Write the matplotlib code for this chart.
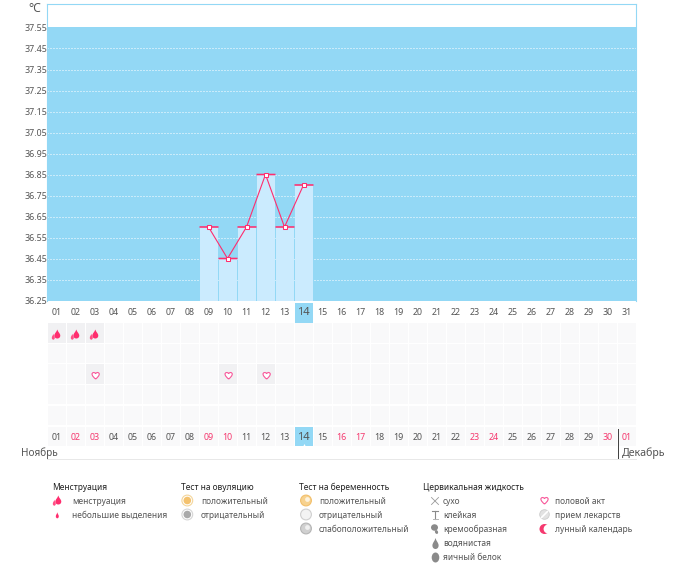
import matplotlib
matplotlib.use("Agg")
import matplotlib.pyplot as plt
from matplotlib.patches import Rectangle, Circle, Ellipse, PathPatch
from matplotlib.path import Path
from matplotlib.transforms import Affine2D

W, H = 675, 587
FONT = "Noto Sans"
plt.rcParams["font.family"] = [FONT, "DejaVu Sans"]

# ---- data ----
days = list(range(1, 32))
temp_days = [9, 10, 11, 12, 13, 14]
temps = [36.60, 36.45, 36.60, 36.85, 36.60, 36.80]
y_ticks = [36.25, 36.35, 36.45, 36.55, 36.65, 36.75, 36.85, 36.95, 37.05,
           37.15, 37.25, 37.35, 37.45, 37.55]
today = 14
day_labels_top = [f"{d:02d}" for d in days]
day_labels_bottom = [f"{d:02d}" for d in range(1, 31)] + ["01"]
red_positions = [2, 3, 9, 10, 16, 17, 23, 24, 30, 31]
menses_days = [1, 2, 3]
intercourse_days = [3, 10, 12]
month_left = "Ноябрь"
month_right = "Декабрь"

legend_titles = ["Менструация", "Тест на овуляцию", "Тест на беременность", "Цервикальная жидкость"]
legend_men = ["менструация", "небольшие выделения"]
legend_ov = ["положительный", "отрицательный"]
legend_preg = ["положительный", "отрицательный", "слабоположительный"]
legend_cerv = ["сухо", "клейкая", "кремообразная", "водянистая", "яичный белок"]
legend_other = ["половой акт", "прием лекарств", "лунный календарь"]

BLUE = "#93D8F5"
LIGHT = "#CBEBFE"
RED = "#FF2D6E"
PINK = "#F5396F"
TXT = "#555555"
DARK = "#222222"
CELL = "#F9F9FA"
CELL_ON = "#F1F1F3"
FS = 6.4
LFS = 6.05

fig = plt.figure(figsize=(W / 100, H / 100), dpi=100, facecolor="white")

def axes_px(x0, y0, x1, y1, **kw):
    return fig.add_axes([x0 / W, 1 - y1 / H, (x1 - x0) / W, (y1 - y0) / H], **kw)

# pixel overlay for decoration and legend (on top of the others)
pa = axes_px(0, 0, W, H, zorder=5)
pa.set_xlim(0, W); pa.set_ylim(H, 0); pa.axis("off"); pa.patch.set_alpha(0)

# ---- temperature chart ----
PX_PER_DEG = 210.0
TOP_PX, Y55, Y25 = 3.5, 27.5, 300.5
ymax = 37.55 + (Y55 - TOP_PX) / PX_PER_DEG
ax = axes_px(47, TOP_PX, 636, Y25)
ax.set_xlim(0.5, 31.5)
ax.set_ylim(36.25, ymax)
ax.set_xticks([]); ax.set_yticks(y_ticks)
ax.tick_params(axis="y", length=0, labelsize=FS, labelcolor=TXT, pad=0)
ax.set_yticklabels([f"{v:.2f}" for v in y_ticks])
for s in ax.spines.values():
    s.set_color(BLUE); s.set_linewidth(0.8)
ax.spines["bottom"].set_visible(False)
ax.axhspan(36.25, 37.55 + 0.5 / PX_PER_DEG, color=BLUE, lw=0, zorder=1)
for v in y_ticks[:-1]:
    ax.axhline(v, color="white", lw=0.72, ls=(0, (1, 2)), zorder=2, clip_on=False)
ax.bar([d + 0.026 for d in temp_days], [t - 36.25 for t in temps], bottom=36.25,
       width=18 / 19, color=LIGHT, lw=0, zorder=3)
for d, t in zip(temp_days, temps):
    ax.plot([d - 0.474, d + 0.526], [t, t], color=RED, lw=1.15, zorder=4,
            solid_capstyle="butt", snap=False)
ax.plot(temp_days, temps, color=RED, lw=0.8, zorder=5, marker="s", ms=3.4,
        mfc="white", mec=RED, mew=0.75)
pa.text(41, 8, "°C", ha="right", va="center", fontsize=8.8, color=TXT)

# ---- calendar strip, shares the day scale, y in pixels ----
ca = axes_px(47, 300, 636, 460)
ca.set_xlim(0.5, 31.5); ca.set_ylim(460, 300); ca.axis("off")
ca.patch.set_alpha(0)
row_tops = [323.3, 344, 364.3, 385, 405.7, 427]
CW = 18 / 19
for r, top in enumerate(row_tops):
    for d in days:
        on = (r == 0 and d in menses_days) or (r == 2 and d in intercourse_days)
        ca.add_patch(Rectangle((d - 0.5 + 0.04, top), CW, 19.2,
                               fc=CELL_ON if on else CELL, lw=0))

drop = Path([(0, -1), (0.15, -0.45), (0.62, -0.1), (0.62, 0.35), (0.62, 0.8), (0.3, 1), (0, 1),
             (-0.3, 1), (-0.62, 0.8), (-0.62, 0.35), (-0.62, -0.1), (-0.15, -0.45), (0, -1)],
            [Path.MOVETO] + [Path.CURVE4] * 12)
heart = Path([(0, 1), (-0.5, 0.55), (-1, 0.1), (-1, -0.4), (-1, -0.85), (-0.3, -1.05), (0, -0.5),
              (0.3, -1.05), (1, -0.85), (1, -0.4), (1, 0.1), (0.5, 0.55), (0, 1)],
             [Path.MOVETO] + [Path.CURVE4] * 12)

def marker_at(axis, path, x, y, sx, sy, **kw):
    """Place a unit path at (x, y) with pixel half sizes (sx, sy); path +y points down."""
    disp = axis.transData.transform((x, y))
    tr = Affine2D().scale(sx, -sy).translate(*disp)
    axis.add_patch(PathPatch(path, transform=tr, **kw))

def double_drop(axis, x, y):
    marker_at(axis, drop, x + 0.8, y, 4.8, 4.5, fc=RED, lw=0)
    marker_at(axis, drop, x - 3.2, y + 2.7, 2.4, 3.0, fc="#FF4F86", lw=0)

fig.canvas.draw()
for d in menses_days:
    p = pa.transData.inverted().transform(ca.transData.transform((d, 334)))
    double_drop(pa, p[0], p[1])
for d in intercourse_days:
    p = pa.transData.inverted().transform(ca.transData.transform((d + 0.06, 375.5)))
    marker_at(pa, heart, p[0], p[1], 3.6, 3.6, fc="white", ec="#F8589A", lw=0.8)

# today highlight and day labels
for top, bottom in [(303, 323), (427, 446)]:
    ca.add_patch(Rectangle((today - 0.5 + 0.04, top), CW, bottom - top, fc=BLUE, lw=0, zorder=3))
for d, lab in zip(days, day_labels_top):
    big = d == today
    ca.text(d, 312.5, lab, ha="center", va="center", fontsize=8 if big else FS,
            color=TXT, zorder=4)
for d, lab in zip(days, day_labels_bottom):
    big = d == today
    col = PINK if d in red_positions else TXT
    ca.text(d, 437, lab, ha="center", va="center", fontsize=8 if big else FS, color=col, zorder=4)
ca.plot([today + 0.03], [445], marker="^", ms=2.2, color="white", mew=0, zorder=5)

pa.text(21, 453, month_left, ha="left", va="center", fontsize=7.2, color=TXT)
pa.text(622, 453, month_right, ha="left", va="center", fontsize=7.6, color=TXT)
pa.plot([617.5, 617.5], [429, 458], color="#444444", lw=0.72)
pa.plot([47, 636], [458.5, 458.5], color="#E8E8E8", lw=0.72)
pa.plot([46, 636], [586.5, 586.5], color="#E8E8E8", lw=0.72)

# ---- legend ----
ROWS = [501, 515, 529, 543, 557]
for x, t in zip([52, 181, 299, 423], legend_titles):
    pa.text(x, 487, t, ha="left", va="center", fontsize=LFS, color=DARK)
for x, labs in zip([72, 201, 319, 443, 555], [legend_men, legend_ov, legend_preg, legend_cerv, legend_other]):
    for y, t in zip(ROWS, labs):
        pa.text(x, y, t, ha="left", va="center", fontsize=LFS, color=TXT)

# menstruation icons
double_drop(pa, 57.5, 500)
marker_at(pa, drop, 57.3, 515.3, 2.4, 3.0, fc=RED, lw=0)

# ovulation icons
def ring(x, y, ec, inner):
    pa.add_patch(Circle((x, y), 5.4, fc="white", ec=ec, lw=0.8))
    pa.add_patch(Circle((x, y), 3.8, fc=inner, lw=0))
ring(187.3, 500.5, "#F4D59A", "#F4C26E")
ring(187.3, 514.5, "#D5D5D5", "#A9A9A9")

# pregnancy icons
pa.add_patch(Circle((306, 500.5), 5.4, fc="#F7D28F", ec="#F2BF6B", lw=0.8))
pa.add_patch(Circle((307.5, 499.5), 2.4, fc="#FDF3DF", lw=0))
pa.add_patch(Circle((306, 514.5), 5.4, fc="#F3F3F3", ec="#CFCFCF", lw=0.8))
pa.add_patch(Circle((306, 528.5), 5.4, fc="#D0D0D0", ec="#B5B5B5", lw=0.8))
pa.add_patch(Circle((307.5, 527.5), 2.4, fc="#F0F0F0", lw=0))

# cervical icons
G = "#8A8A8A"
pa.plot([431.5, 438.5], [497.5, 504.5], color="#999999", lw=0.6)
pa.plot([431.5, 438.5], [504.5, 497.5], color="#999999", lw=0.6)
pa.plot([432, 438], [511, 511], color=G, lw=0.8)
pa.plot([435, 435], [511, 519], color=G, lw=0.8)
pa.plot([432.5, 437.5], [519, 519], color="#B5B5B5", lw=0.7)
pa.add_patch(Ellipse((434.5, 527.5), 7, 6.5, fc=G, lw=0))
pa.add_patch(Ellipse((436.5, 532), 3, 4, angle=-25, fc=G, lw=0))
marker_at(pa, drop, 435.5, 543.5, 5, 5.5, fc=G, lw=0)
pa.add_patch(Ellipse((435.5, 557.5), 7.6, 10, fc=G, lw=0))

# other icons
marker_at(pa, heart, 544.5, 500.5, 3.6, 3.6, fc="white", ec="#F8589A", lw=0.8)
pa.add_patch(Circle((544.5, 514.5), 4.8, fc="#E2E2E2", ec="#CCCCCC", lw=0.6))
pa.plot([541.5, 547.5], [517.5, 511.5], color="white", lw=1.2)
pa.add_patch(Circle((544.5, 529), 5, fc="#F5396F", lw=0))
pa.add_patch(Circle((548, 529), 4.4, fc="white", lw=0))

fig.savefig("out.png", dpi=100, facecolor="white")
